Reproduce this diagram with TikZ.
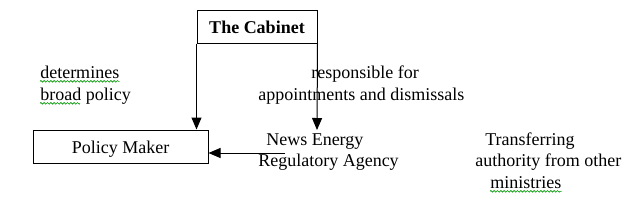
\documentclass[tikz,border=0pt]{standalone}
\usepackage{fontspec}
\setmainfont{Liberation Serif}
\usetikzlibrary{arrows.meta,decorations.pathmorphing}
\begin{document}
\begin{tikzpicture}[x=0.75pt,y=-0.75pt,
  font=\fontsize{13.5}{16}\selectfont,
  boxnode/.style={draw,line width=0.75pt,inner sep=0pt,text height=9.75pt,text depth=0pt},
  txt/.style={anchor=base west,inner sep=0pt},
  arr/.style={line width=0.75pt,-{Triangle[length=9pt,width=7.5pt]}},
  squig/.style={draw=green!60!black,line width=0.5pt,decorate,decoration={zigzag,segment length=2.5pt,amplitude=0.6pt}}]
\useasboundingbox (0,0) rectangle (635,205);
\fill[white] (0,0) rectangle (635,205);
\node[boxnode,minimum width=90pt,minimum height=24.75pt,font=\fontsize{13.5}{16}\selectfont\bfseries] (cab) at (257,26.5) {The Cabinet};
\node[boxnode,minimum width=131.25pt,minimum height=24.75pt] (pm) at (120.5,146.5) {Policy Maker};
\node[txt] (det1) at (40,78) {determines};
\node[txt] (det2) at (40,100) {broad policy};
\node[txt] (resp1) at (311,78) {responsible for};
\node[txt] (resp2) at (258,100) {appointments and dismissals};
\node[txt] (ag1) at (266,145) {News Energy};
\node[txt] (ag2) at (258,166) {Regulatory Agency};
\node[txt] (tr1) at (485,145) {Transferring};
\node[txt] (tr2) at (475,166) {authority from other};
\node[txt] (tr3) at (490,188) {ministries};
\coordinate (agtop) at (317,130);
\coordinate (agleft) at (285,153);
\draw[arr] (cab.south west) -- (cab.south west |- pm.north);
\draw[arr] (cab.south east) -- (agtop);
\draw[arr] (agleft) -- (agleft -| pm.east);
\path[squig] ([yshift=-2.5pt]det1.base west) -- ([yshift=-2.5pt]det1.base east);
\path[squig] ([yshift=-2.5pt]det2.base west) -- ++(30pt,0);
\path[squig] ([yshift=-2.5pt]tr3.base west) -- ([yshift=-2.5pt]tr3.base east);
\end{tikzpicture}
\end{document}
